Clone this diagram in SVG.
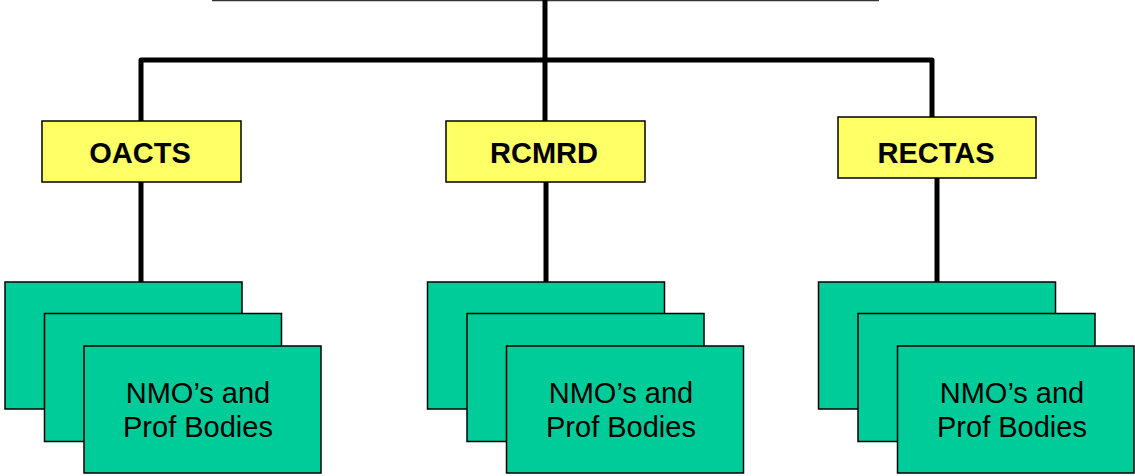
<svg xmlns="http://www.w3.org/2000/svg" width="1135" height="476" viewBox="0 0 1135 476">
<style>
.conn{fill:none;stroke:#000;stroke-width:5;stroke-linejoin:round}
.org{fill:#FFFF66;stroke:#000;stroke-width:1.5}
.nmo{fill:#00CC99;stroke:#000;stroke-width:1.5}
.bl{font-family:"Liberation Sans",Arial,sans-serif;font-weight:bold;font-size:29px;text-anchor:middle;fill:#000}
.tx{font-family:"Liberation Sans",Arial,sans-serif;font-size:29px;text-anchor:middle;fill:#000}
</style>
<rect width="1135" height="476" fill="#fff"/>
<g id="connectors">
<line x1="212" y1="0.5" x2="879" y2="0.5" stroke="#333" stroke-width="1.5"/>
<path class="conn" d="M545 0V121"/>
<path class="conn" d="M141 121V60H932V117"/>
<path class="conn" d="M141 182V282"/>
<path class="conn" d="M546 182V282"/>
<path class="conn" d="M937 178V282"/>
</g>
<g id="oacts"><rect class="org" x="42" y="121" width="199" height="61"/><text class="bl" x="140" y="163">OACTS</text></g>
<g id="rcmrd"><rect class="org" x="446" y="121" width="199" height="61"/><text class="bl" x="544" y="163">RCMRD</text></g>
<g id="rectas"><rect class="org" x="838" y="117" width="198" height="61"/><text class="bl" x="936" y="163">RECTAS</text></g>
<g id="nmo-left">
<rect class="nmo" x="5" y="282" width="237" height="127"/>
<rect class="nmo" x="44.5" y="313.5" width="237" height="128"/>
<rect class="nmo" x="84" y="346" width="237" height="127"/>
<text class="tx" x="198" y="403">NMO’s and</text>
<text class="tx" x="198" y="437">Prof Bodies</text>
</g>
<g id="nmo-middle">
<rect class="nmo" x="427.5" y="282" width="237" height="127"/>
<rect class="nmo" x="467" y="313.5" width="237" height="128"/>
<rect class="nmo" x="506.5" y="346" width="237" height="127"/>
<text class="tx" x="621" y="403">NMO’s and</text>
<text class="tx" x="621" y="437">Prof Bodies</text>
</g>
<g id="nmo-right">
<rect class="nmo" x="818.5" y="282" width="237" height="127"/>
<rect class="nmo" x="858" y="313.5" width="237" height="128"/>
<rect class="nmo" x="897.5" y="346" width="236.5" height="127"/>
<text class="tx" x="1012" y="403">NMO’s and</text>
<text class="tx" x="1012" y="437">Prof Bodies</text>
</g>
</svg>
